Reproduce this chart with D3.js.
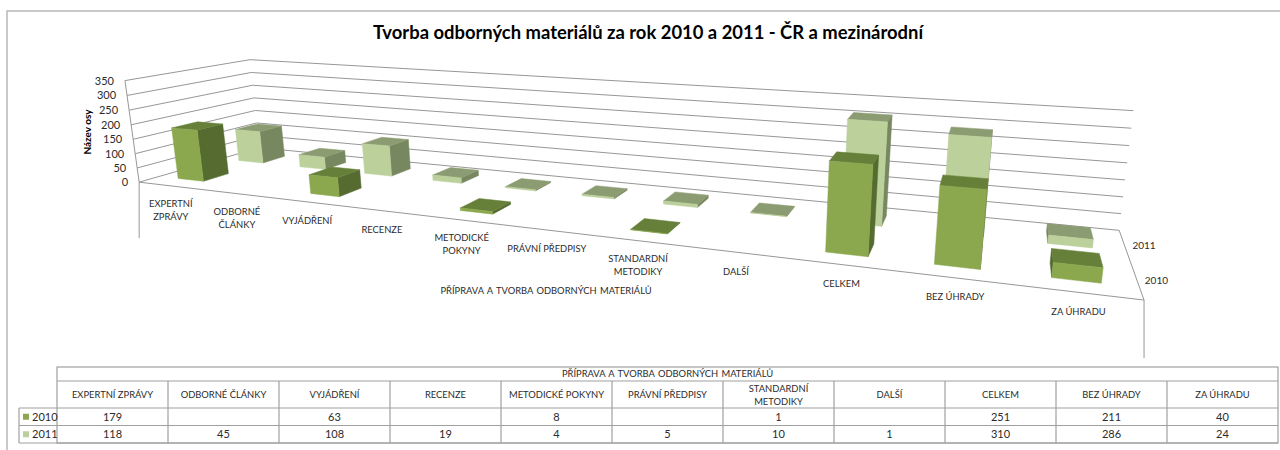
<!DOCTYPE html>
<html>
<head>
<meta charset="utf-8">
<title>Tvorba odborných materiálů</title>
<script src="https://cdn.jsdelivr.net/npm/d3@7"></script>
<style>
body { margin: 0; background: #fff; }
text { font-family: Lato, "Open Sans", sans-serif; fill: #2b2b2b; }
</style>
</head>
<body>
<div id="chart"></div>
<script>
var categories = ["EXPERTNÍ ZPRÁVY", "ODBORNÉ ČLÁNKY", "VYJÁDŘENÍ", "RECENZE", "METODICKÉ POKYNY",
    "PRÁVNÍ PŘEDPISY", "STANDARDNÍ METODIKY", "DALŠÍ", "CELKEM", "BEZ ÚHRADY", "ZA ÚHRADU"];
var seriesNames = ["2010", "2011"];
var values2010 = [179, null, 63, null, 8, null, 1, null, 251, 211, 40];
var values2011 = [118, 45, 108, 19, 4, 5, 10, 1, 310, 286, 24];
var yTicks = [0, 50, 100, 150, 200, 250, 300, 350];
var wrappedOnAxis = ["EXPERTNÍ ZPRÁVY", "ODBORNÉ ČLÁNKY", "METODICKÉ POKYNY", "STANDARDNÍ METODIKY"];
var wrappedInTable = ["STANDARDNÍ METODIKY"];
var chartTitle = "Tvorba odborných materiálů za rok 2010 a 2011 - ČR a mezinárodní";
var axisTitle = "PŘÍPRAVA A TVORBA ODBORNÝCH MATERIÁLŮ";

var colors = {
    "2010": {front: "#8ba84f", top: "#66803a", side: "#556b30"},
    "2011": {front: "#bbd09a", top: "#8c9c72", side: "#77875f"}
};

var svg = d3.select("#chart").append("svg")
    .attr("width", 1280)
    .attr("height", 450)
    .style("display", "block");

// the three axes run 0..1 inside a box, the camera turns that into pixels
var x = d3.scaleBand().domain(categories).range([0, 1]).paddingInner(0.6).paddingOuter(0.3);
var z = d3.scaleBand().domain(seriesNames).range([0, 1]).paddingInner(0.6).paddingOuter(0.3);
var y = d3.scaleLinear().domain([0, 350]).range([0, 1]);

var camera = [641.74, 161.53, -17.43, 139.16,
              22.64572, -10.86627, -103.65814, 182.16527,
              -0.31742, 0.15951, -0.02597];

function project(u, v, w) {
    var d = camera[8] * u + camera[9] * v + camera[10] * w + 1;
    return [(camera[0] * u + camera[1] * v + camera[2] * w + camera[3]) / d,
            (camera[4] * u + camera[5] * v + camera[6] * w + camera[7]) / d];
}

var line = d3.line();

// frame of the picture
svg.append("path")
    .attr("d", "M1280,11H7V450")
    .attr("fill", "none")
    .attr("stroke", "#b8b8b8")
    .attr("stroke-width", 1.5);

svg.append("text")
    .attr("x", 648)
    .attr("y", 39)
    .attr("text-anchor", "middle")
    .style("font-size", "18.4px")
    .style("font-weight", 700)
    .style("fill", "#000")
    .text(chartTitle);

// walls
var gWalls = svg.append("g").attr("fill", "none").attr("stroke", "#979797");

gWalls.selectAll(".grid")
    .data(yTicks)
    .enter().append("path")
    .attr("class", "grid")
    .attr("d", function(d) {
        return line([project(0, 0, y(d)), project(0, 1, y(d)), project(1, 1, y(d))]);
    });

gWalls.append("path").attr("d", line([project(0, 0, 1), project(0, 0, 0), project(1, 0, 0), project(1, 1, 0)]));
// drop lines under the floor
gWalls.append("path").attr("d", function() {
    var p = project(0, 0, 0);
    return line([p, [p[0], p[1] + 56]]);
});
gWalls.append("path").attr("d", function() {
    var p = project(1, 0, 0);
    return line([p, [p[0], p[1] + 58]]);
});

svg.selectAll(".y-label")
    .data(yTicks)
    .enter().append("text")
    .attr("class", "y-label")
    .attr("x", function(d) { return project(0, 0, y(d))[0] - 11; })
    .attr("y", function(d) { return project(0, 0, y(d))[1] + 4; })
    .attr("text-anchor", "end")
    .style("font-size", "11px")
    .text(function(d) { return d; });

svg.append("text")
    .attr("transform", "translate(91,132) rotate(-90)")
    .attr("text-anchor", "middle")
    .style("font-size", "10px")
    .style("font-weight", 700)
    .style("fill", "#000")
    .text("Název osy");

// bars, back row first so the front row covers it
function barFaces(name, value, series) {
    var u0 = x(name), u1 = u0 + x.bandwidth(),
        v0 = z(series), v1 = v0 + z.bandwidth(),
        h = y(value);
    var c = colors[series];
    return [
        {fill: c.side, pts: [[u0, v1, 0], [u0, v0, 0], [u0, v0, h], [u0, v1, h]]},
        {fill: c.side, pts: [[u1, v0, 0], [u1, v1, 0], [u1, v1, h], [u1, v0, h]]},
        {fill: c.top, pts: [[u0, v0, h], [u1, v0, h], [u1, v1, h], [u0, v1, h]]},
        {fill: c.front, pts: [[u0, v0, 0], [u1, v0, 0], [u1, v0, h], [u0, v0, h]]}
    ].map(function(f) {
        return {fill: f.fill, pts: f.pts.map(function(p) { return project(p[0], p[1], p[2]); })};
    }).filter(function(f) {
        return d3.polygonArea(f.pts) > 0; // faces turned away have the opposite winding
    });
}

var rows = [{name: "2011", values: values2011}, {name: "2010", values: values2010}];

rows.forEach(function(row) {
    var gRow = svg.append("g").attr("class", "row-" + row.name);
    var bars = categories.map(function(c, i) {
        return {name: c, value: row.values[i]};
    }).filter(function(d) { return d.value !== null; });

    gRow.selectAll(".bar")
        .data(bars)
        .enter().append("g")
        .attr("class", "bar")
        .selectAll("path")
        .data(function(d) { return barFaces(d.name, d.value, row.name); })
        .enter().append("path")
        .attr("d", function(f) { return line(f.pts) + "Z"; })
        .attr("fill", function(f) { return f.fill; })
        .attr("stroke", function(f) { return f.fill; })
        .attr("stroke-width", 0.5);
});

// category labels under the front edge
var gCat = svg.selectAll(".cat-label")
    .data(categories)
    .enter().append("text")
    .attr("class", "cat-label")
    .attr("text-anchor", "middle")
    .style("font-size", "9.4px");

gCat.selectAll("tspan")
    .data(function(d) {
        var lines = wrappedOnAxis.indexOf(d) >= 0 ? d.split(" ") : [d];
        var p = project(x(d) + x.bandwidth() / 2, 0, 0);
        return lines.map(function(t, i) {
            return {text: t, x: p[0], y: p[1] + (lines.length > 1 ? 21 : 22.5) + i * 13};
        });
    })
    .enter().append("tspan")
    .attr("x", function(d) { return d.x; })
    .attr("y", function(d) { return d.y; })
    .text(function(d) { return d.text; });

svg.append("text")
    .attr("x", 546)
    .attr("y", 294)
    .attr("text-anchor", "middle")
    .style("font-size", "9.4px")
    .style("word-spacing", "1px")
    .text(axisTitle);

svg.selectAll(".z-label")
    .data(seriesNames)
    .enter().append("text")
    .attr("class", "z-label")
    .attr("x", function(d) { return project(1, z(d) + z.bandwidth() / 2, 0)[0] + 8; })
    .attr("y", function(d) { return project(1, z(d) + z.bandwidth() / 2, 0)[1] + 4; })
    .style("font-size", "10px")
    .text(function(d) { return d; });

// data table
var tx = d3.scaleBand().domain(categories).range([57, 1278]);
var ty = d3.scaleBand().domain(seriesNames).range([408, 443]);
var gTable = svg.append("g").attr("class", "data-table");
var tableTop = 367, tableHead = 381, headBottom = ty.range()[0], tableBottom = ty.range()[1];

var gLines = gTable.append("g")
    .attr("stroke", "#a0a0a0")
    .attr("stroke-width", 1.2)
    .attr("fill", "none");

gLines.append("rect")
    .attr("x", tx.range()[0])
    .attr("y", tableTop)
    .attr("width", tx.range()[1] - tx.range()[0])
    .attr("height", tableBottom - tableTop);
gLines.append("path").attr("d", line([[tx.range()[0], tableHead], [tx.range()[1], tableHead]]));
gLines.selectAll(".col")
    .data(categories.slice(1))
    .enter().append("path")
    .attr("class", "col")
    .attr("d", function(d) { return line([[tx(d), tableHead], [tx(d), tableBottom]]); });
gLines.selectAll(".rowline")
    .data(seriesNames.concat(["end"]))
    .enter().append("path")
    .attr("class", "rowline")
    .attr("d", function(d) {
        var py = d === "end" ? tableBottom : ty(d);
        return line([[19, py], [tx.range()[1], py]]);
    });
gLines.append("path").attr("d", line([[19, headBottom], [19, tableBottom]]));

gTable.append("text")
    .attr("x", (tx.range()[0] + tx.range()[1]) / 2)
    .attr("y", 377)
    .attr("text-anchor", "middle")
    .style("font-size", "9.4px")
    .style("word-spacing", "1px")
    .text(axisTitle);

var gHead = gTable.selectAll(".head")
    .data(categories)
    .enter().append("text")
    .attr("class", "head")
    .attr("text-anchor", "middle")
    .style("font-size", "9.4px");

gHead.selectAll("tspan")
    .data(function(d) {
        var lines = wrappedInTable.indexOf(d) >= 0 ? d.split(" ") : [d];
        return lines.map(function(t, i) {
            return {text: t, x: tx(d) + tx.bandwidth() / 2, y: 398 - (lines.length - 1) * 6.5 + i * 13};
        });
    })
    .enter().append("tspan")
    .attr("x", function(d) { return d.x; })
    .attr("y", function(d) { return d.y; })
    .text(function(d) { return d.text; });

rows.forEach(function(row) {
    var rowY = ty(row.name) + ty.bandwidth() / 2 + 4;

    gTable.append("rect")
        .attr("x", 23)
        .attr("y", rowY - 7)
        .attr("width", 6)
        .attr("height", 6)
        .attr("fill", colors[row.name].front);

    gTable.append("text")
        .attr("x", 32)
        .attr("y", rowY)
        .style("font-size", "11px")
        .text(row.name);

    gTable.selectAll(".cell-" + row.name)
        .data(categories.map(function(c, i) { return {name: c, value: row.values[i]}; })
            .filter(function(d) { return d.value !== null; }))
        .enter().append("text")
        .attr("class", "cell-" + row.name)
        .attr("x", function(d) { return tx(d.name) + tx.bandwidth() / 2; })
        .attr("y", rowY)
        .attr("text-anchor", "middle")
        .style("font-size", "11px")
        .text(function(d) { return d.value; });
});
</script>
</body>
</html>
